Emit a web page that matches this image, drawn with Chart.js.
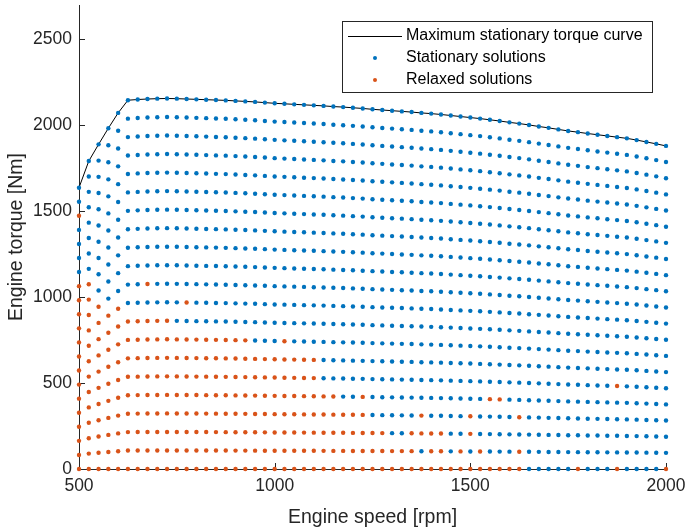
<!DOCTYPE html>
<html>
<head>
<meta charset="utf-8">
<script src="https://cdn.jsdelivr.net/npm/chart.js@4.4.1/dist/chart.umd.min.js"></script>
<style>
  html, body { margin: 0; padding: 0; background: #fff; }
  #wrap { width: 687px; height: 530px; }
</style>
</head>
<body>
<div id="wrap"><canvas id="chart" width="687" height="530"></canvas></div>
<script>
// engine speed grid [rpm]
const speeds = [
  500, 525, 550, 575, 600, 625, 650, 675, 700, 725,
  750, 775, 800, 825, 850, 875, 900, 925, 950, 975,
  1000, 1025, 1050, 1075, 1100, 1125, 1150, 1175, 1200, 1225,
  1250, 1275, 1300, 1325, 1350, 1375, 1400, 1425, 1450, 1475,
  1500, 1525, 1550, 1575, 1600, 1625, 1650, 1675, 1700, 1725,
  1750, 1775, 1800, 1825, 1850, 1875, 1900, 1925, 1950, 1975,
  2000,
];

// maximum stationary torque at each speed [Nm]
const maxTorque = [
  1637, 1792, 1889, 1983, 2072, 2146, 2150, 2153, 2155, 2156,
  2155, 2153, 2151, 2149, 2147, 2145, 2142, 2139, 2136, 2132,
  2128, 2125, 2122, 2119, 2116, 2113, 2109, 2106, 2102, 2098,
  2093, 2089, 2085, 2081, 2077, 2072, 2068, 2063, 2057, 2051,
  2045, 2039, 2032, 2025, 2017, 2010, 2002, 1993, 1985, 1976,
  1967, 1960, 1952, 1945, 1938, 1931, 1924, 1914, 1903, 1892,
  1880,
];

// torque rows as fraction of max torque (bottom row first)
const torqueLevels = [
  0, 0.05, 0.1, 0.15, 0.2, 0.25, 0.3, 0.35, 0.4, 0.45,
  0.5, 0.55, 0.6, 0.65, 0.7, 0.75, 0.8, 0.85, 0.9, 0.95, 1,
];

// one string per torque row (same order), one char per speed,
// 'x' = relaxed solution, '.' = stationary; spaces only group by ten
const relaxedRows = [
  'xxxxxxxxxx xxxxxxxxxx xxxxxxxxxx xxxxxxxxxx xxxxxx.... .x...x.... x',
  'xxxxxxxxxx xxxxxxxxxx xxxxxxxxxx xxxxx.xx.x .x...x.... .......... .',
  'xxxxxxxxxx xxxxxxxxxx xxxxxxxxxx xx..xxxx.. x......... .......... .',
  'xxxxxxxxxx xxxxxxxxxx xxxxxxxxxx .....x.... x....x.... .......... .',
  'xxxxxxxxxx xxxxxxxxxx xxxxxxx..x .......... ..xx...... .......... .',
  'xxxxxxxxxx xxxxxxxxxx xxxxx..... .......... .......... .....x.... .',
  'xxxxxxxxxx xxxxxxxxxx xxxxx..... .......... .......... .......... .',
  'xxxxxxxxxx xxxxxxxx.. .x........ .......... .......... .......... .',
  'xxxxxxxxxx .......... .......... .......... .......... .......... .',
  'xxxxx..... .x........ .......... .......... .......... .......... .',
  'xxx....x.. .......... .......... .......... .......... .......... .',
  'xx........ .......... .......... .......... .......... .......... .',
  'xx........ .......... .......... .......... .......... .......... .',
  'x......... .......... .......... .......... .......... .......... .',
  '.......... .......... .......... .......... .......... .......... .',
  '.......... .......... .......... .......... .......... .......... .',
  '.......... .......... .......... .......... .......... .......... .',
  '.......... .......... .......... .......... .......... .......... .',
  'x......... .......... .......... .......... .......... .......... .',
  '.......... .......... .......... .......... .......... .......... .',
  '.......... .......... .......... .......... .......... .......... .',
];

const xTicks = [500, 1000, 1500, 2000];
const yTicks = [0, 500, 1000, 1500, 2000, 2500];

const BLUE = '#0072BD';
const ORANGE = '#D95319';
const AXIS = '#262626';
const FONT = "'Liberation Sans', Arial, Helvetica, sans-serif";

const curve = speeds.map((s, i) => ({ x: s, y: maxTorque[i] }));
const stationary = [];
const relaxed = [];
torqueLevels.forEach((level, k) => {
  const mask = relaxedRows[k].replace(/ /g, '');
  speeds.forEach((s, i) => {
    const pt = { x: s, y: level * maxTorque[i] };
    (mask[i] === 'x' ? relaxed : stationary).push(pt);
  });
});

// MATLAB-like axes: left/bottom lines with inward ticks
const matlabAxes = {
  id: 'matlabAxes',
  beforeDatasetsDraw(chart) {
    const { ctx, chartArea: a, scales: { x, y } } = chart;
    ctx.save();
    ctx.strokeStyle = AXIS;
    ctx.lineWidth = 1;
    ctx.beginPath();
    ctx.moveTo(a.left + 0.5, a.top);
    ctx.lineTo(a.left + 0.5, a.bottom + 0.5);
    ctx.lineTo(a.right, a.bottom + 0.5);
    xTicks.forEach((v) => {
      const px = Math.round(x.getPixelForValue(v)) + 0.5;
      ctx.moveTo(px, a.bottom);
      ctx.lineTo(px, a.bottom - 6);
    });
    yTicks.forEach((v) => {
      const py = Math.round(y.getPixelForValue(v)) + 0.5;
      ctx.moveTo(a.left, py);
      ctx.lineTo(a.left + 6, py);
    });
    ctx.stroke();
    ctx.restore();
  },
};

// boxed legend in the upper right corner of the axes
const boxedLegend = {
  id: 'boxedLegend',
  afterDraw(chart) {
    const { ctx, chartArea: a } = chart;
    const w = 310;
    const h = 71;
    const left = a.right - 14 - w;
    const top = a.top + 16;
    ctx.save();
    ctx.fillStyle = '#fff';
    ctx.fillRect(left, top, w, h);
    ctx.strokeStyle = AXIS;
    ctx.lineWidth = 1;
    ctx.strokeRect(left + 0.5, top + 0.5, w, h);
    ctx.font = `16px ${FONT}`;
    ctx.textBaseline = 'middle';
    chart.data.datasets.forEach((ds, i) => {
      const cy = top + 15 + i * 22;
      if (ds.showLine) {
        ctx.strokeStyle = ds.borderColor;
        ctx.beginPath();
        ctx.moveTo(left + 6, cy + 0.5);
        ctx.lineTo(left + 60, cy + 0.5);
        ctx.stroke();
      } else {
        ctx.fillStyle = ds.backgroundColor;
        ctx.beginPath();
        ctx.arc(left + 33, cy, 2, 0, Math.PI * 2);
        ctx.fill();
      }
      ctx.fillStyle = '#000';
      ctx.fillText(ds.label, left + 64, cy);
    });
    ctx.restore();
  },
};

new Chart(document.getElementById('chart'), {
  type: 'scatter',
  data: {
    datasets: [
      {
        label: 'Maximum stationary torque curve',
        data: curve,
        showLine: true,
        borderColor: '#000',
        borderWidth: 1,
        pointRadius: 0,
        order: 3,
        clip: false,
      },
      {
        label: 'Stationary solutions',
        data: stationary,
        backgroundColor: BLUE,
        borderWidth: 0,
        pointRadius: 2.2,
        order: 2,
        clip: false,
      },
      {
        label: 'Relaxed solutions',
        data: relaxed,
        backgroundColor: ORANGE,
        borderWidth: 0,
        pointRadius: 2.2,
        order: 1,
        clip: false,
      },
    ],
  },
  options: {
    responsive: false,
    animation: false,
    devicePixelRatio: 1,
    layout: { padding: { top: 5, right: 21, left: 0, bottom: 0 } },
    scales: {
      x: {
        type: 'linear',
        min: 500,
        max: 2000,
        afterBuildTicks: (scale) => { scale.ticks = xTicks.map((v) => ({ value: v })); },
        afterFit: (scale) => {
          scale.height = 61;
          scale.paddingLeft = 0;
          scale.paddingRight = 0;
        },
        grid: { display: false, drawTicks: false },
        border: { display: false },
        ticks: {
          color: AXIS,
          padding: 7,
          font: { family: FONT, size: 17.5 },
          callback: (v) => String(v),
        },
        title: {
          display: true,
          text: 'Engine speed [rpm]',
          color: AXIS,
          padding: { top: 0, bottom: 1 },
          font: { family: FONT, size: 19.5 },
        },
      },
      y: {
        type: 'linear',
        min: 0,
        max: 2700,
        afterBuildTicks: (scale) => { scale.ticks = yTicks.map((v) => ({ value: v })); },
        afterFit: (scale) => {
          scale.width = 79;
          scale.paddingTop = 0;
          scale.paddingBottom = 0;
        },
        grid: { display: false, drawTicks: false },
        border: { display: false },
        ticks: {
          color: AXIS,
          padding: 7,
          font: { family: FONT, size: 17.5 },
          callback: (v) => String(v),
        },
        title: {
          display: true,
          text: 'Engine torque [Nm]',
          color: AXIS,
          padding: { top: 5, bottom: 0 },
          font: { family: FONT, size: 19.5 },
        },
      },
    },
    plugins: {
      legend: { display: false },
      tooltip: { enabled: false },
    },
  },
  plugins: [matlabAxes, boxedLegend],
});
</script>
</body>
</html>
